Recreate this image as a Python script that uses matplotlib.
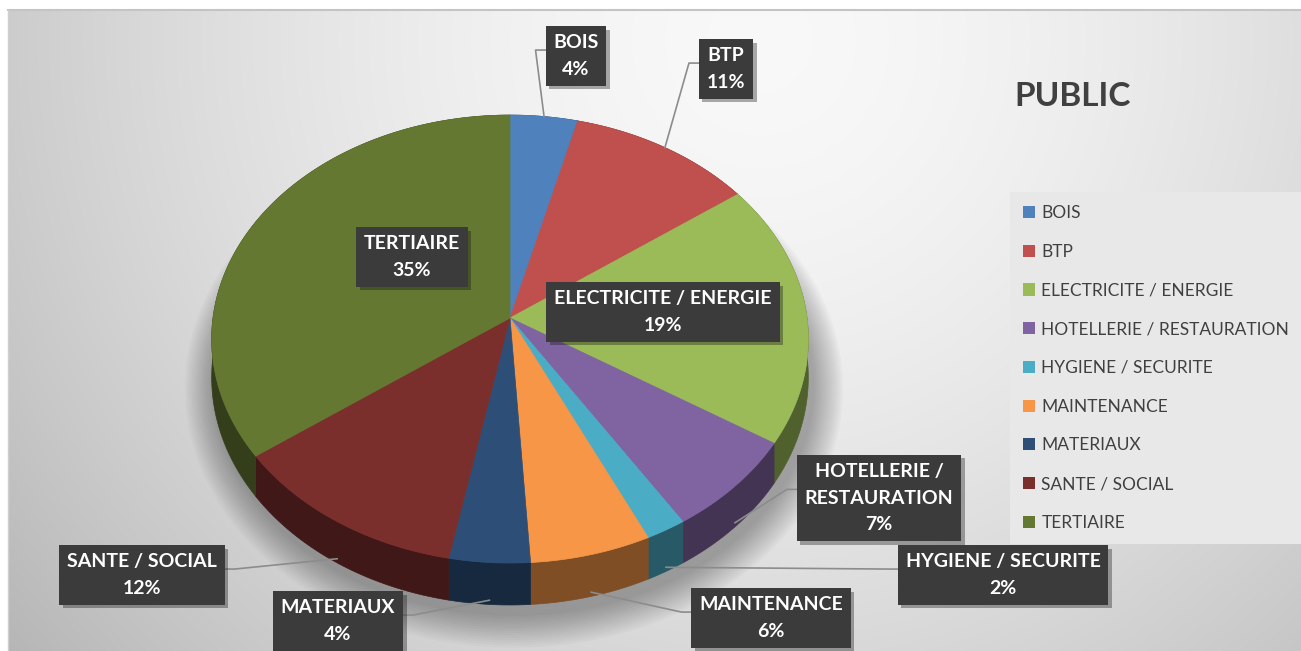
import numpy as np
import matplotlib.pyplot as plt
import matplotlib.colors as mcolors
import matplotlib.patheffects as pe
from matplotlib.patches import Patch

plt.rcParams['font.family'] = ['Lato', 'DejaVu Sans']

# DONNEES
secteurs = ['BOIS', 'BTP', 'ELECTRICITE / ENERGIE', 'HOTELLERIE / RESTAURATION',
            'HYGIENE / SECURITE', 'MAINTENANCE', 'MATERIAUX', 'SANTE / SOCIAL', 'TERTIAIRE']
parts = [4, 11, 19, 7, 2, 6, 4, 12, 35]
couleurs = ['#4f81bd', '#c0504d', '#9bbb59', '#8064a2', '#4bacc6',
            '#f79646', '#2c4e77', '#7a2f2c', '#647832']
etiquettes = ['BOIS', 'BTP', 'ELECTRICITE / ENERGIE', 'HOTELLERIE /\nRESTAURATION',
              'HYGIENE / SECURITE', 'MAINTENANCE', 'MATERIAUX', 'SANTE / SOCIAL', 'TERTIAIRE']
titre = 'PUBLIC'

# positions des etiquettes (centre de la boite, en pixels)
pos_etiq = [(576, 56), (726, 69), (663, 312), (879, 498), (1003, 575),
            (771, 618), (338, 621), (142, 575), (412, 257)]
avec_ligne = [True, True, False, True, True, True, True, True, False]

W, HT = 1301, 651
fig = plt.figure(figsize=(W / 100, HT / 100), dpi=100)
ax = fig.add_axes([0, 0, 1, 1])

# fond degrade
xx, yy = np.meshgrid(np.arange(W), np.arange(HT))
d = np.hypot(xx - 760, yy - 40)
v = 0.975 - 0.2 * np.clip(d / 820, 0, 1.3) ** 1.6
img = np.dstack([v, v, v])
img[:10, :] = 1
img[:, :8] = 1
ax.imshow(img, extent=[0, W, HT, 0], aspect='auto', zorder=0, interpolation='bilinear')
ax.plot([8, W], [10, 10], color='#c4c4c4', lw=1.5, zorder=1)
ax.plot([8, 8], [10, HT], color='#cfcfcf', lw=1, zorder=1)

# camembert 3D (perspective)
CX, CY, A, B, K, H = 510, 318, 297, 222, 0.094, 38


def proj(theta, lift=0.0, grow=0.0):
    t = np.radians(theta)
    s = 1 / (1 + K * np.cos(t))
    return CX + (A + grow) * np.sin(t) * s, CY - (B + grow) * np.cos(t) * s + lift * s


bornes = np.concatenate([[0], np.cumsum(parts)]) / sum(parts) * 360

# ombre
tt = np.linspace(0, 360, 361)
for i in range(14):
    sx, sy = proj(tt, H + 8, grow=2 + i * 2.2)
    ax.fill(sx + 4, sy, color='black', alpha=0.022, lw=0, zorder=2)

# cotes
for i in range(len(parts)):
    th = np.linspace(bornes[i], bornes[i + 1], 120)
    x0, y0 = proj(th)
    x1, y1 = proj(th, H)
    c = np.array(mcolors.to_rgb(couleurs[i])) * 0.52
    ax.fill(np.r_[x0, x1[::-1]], np.r_[y0, y1[::-1]], color=c, ec=c, lw=0.5, zorder=3)

# dessus
for i in range(len(parts)):
    th = np.linspace(bornes[i], bornes[i + 1], 120)
    x0, y0 = proj(th)
    ax.fill(np.r_[CX, x0], np.r_[CY, y0], color=couleurs[i], ec=couleurs[i], lw=0.5, zorder=4)

ax.set_xlim(0, W)
ax.set_ylim(HT, 0)
ax.axis('off')

# etiquettes
textes = []
for i in range(len(parts)):
    t = ax.text(pos_etiq[i][0], pos_etiq[i][1], f'{etiquettes[i]}\n{parts[i]}%',
                ha='center', va='center', ma='center', color='white', fontsize=14,
                fontweight='bold', linespacing=1.7, zorder=7,
                bbox=dict(boxstyle='square,pad=0.4', fc='#3b3b3b', ec='none'))
    t.get_bbox_patch().set_path_effects([pe.SimplePatchShadow(offset=(2.5, -2.5), alpha=0.35), pe.Normal()])
    textes.append(t)

fig.canvas.draw()
inv = ax.transData.inverted()
for i in range(len(parts)):
    if not avec_ligne[i]:
        continue
    m = (bornes[i] + bornes[i + 1]) / 2
    lift = 0.9 * H if np.cos(np.radians(m)) < 0 else 0
    axx, ayy = proj(m, lift)
    bb = textes[i].get_bbox_patch().get_window_extent()
    (bx0, by0), (bx1, by1) = inv.transform([(bb.x0, bb.y0), (bb.x1, bb.y1)])
    ly = min(by0, by1) + 0.4 * abs(by1 - by0)
    if axx < bx0:
        xs = [bx0, bx0 - 10, axx]
    else:
        xs = [bx1, bx1 + 10, axx]
    ax.plot(xs, [ly, ly, ayy], color='#8c8c8c', lw=1.2, zorder=5)

# titre
ax.text(1073, 97, titre, ha='center', va='center', fontsize=24, fontweight='bold', color='#404040')

# legende
poignees = [Patch(facecolor=c, edgecolor='none') for c in couleurs]
leg = ax.legend(poignees, secteurs, loc='upper left', bbox_to_anchor=(1010 / W, 1 - 192 / HT),
                frameon=True, fancybox=False, facecolor='#e8e8e8', edgecolor='none', framealpha=1,
                fontsize=12.5, labelspacing=1.31, handlelength=0.7, handleheight=0.7,
                handletextpad=0.35, borderpad=0.75, borderaxespad=0)
for tx in leg.get_texts():
    tx.set_color('#404040')

fig.savefig('out.png', dpi=100)
